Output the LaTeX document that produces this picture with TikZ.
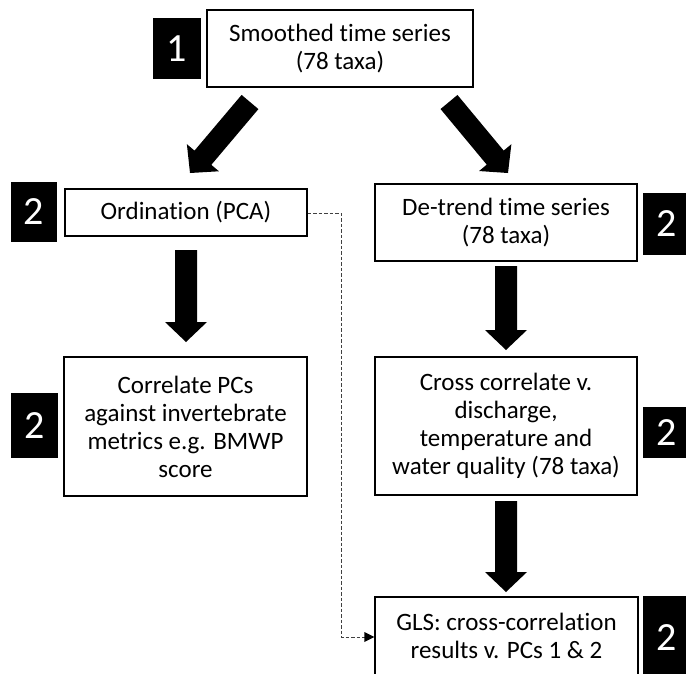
\documentclass[tikz,border=0pt]{standalone}
\usepackage{fontspec}
\setmainfont{Carlito}[Ligatures=NoCommon]
\usetikzlibrary{calc}
\newcommand{\barrow}[2]{%
  \path ($(#2)!20pt!(#1)$) coordinate (bh);
  \fill ($(#1)!11pt!90:(#2)$) -- ($(bh)!11pt!90:(#2)$) -- ($(bh)!21pt!90:(#2)$) -- (#2)
     -- ($(bh)!21pt!-90:(#2)$) -- ($(bh)!11pt!-90:(#2)$) -- ($(#1)!11pt!-90:(#2)$) -- cycle;}
\begin{document}
\begin{tikzpicture}[x=1pt,y=-1pt,
  box/.style={draw, line width=1.3pt, inner sep=0pt, align=center,
    font=\fontsize{25}{28}\selectfont},
  numbox/.style={fill=black, text=white, inner sep=0pt,
    font=\fontsize{40}{40}\selectfont},
  dashline/.style={draw=black!75, line width=1pt, dash pattern=on 3.5pt off 2pt}]
\useasboundingbox (0,0) rectangle (686,673);
% boxes
\node[box, minimum width=266pt, minimum height=77pt] (top) at (340,48.5) {Smoothed time series\\(78 taxa)};
\node[box, minimum width=242pt, minimum height=47pt] (ord) at (186,212.5) {Ordination (PCA)};
\node[box, minimum width=243pt, minimum height=139pt] (cor) at (185.5,426.5) {Correlate PCs\\against invertebrate\\metrics e.g. BMWP\\score};
\node[box, minimum width=262pt, minimum height=77pt] (det) at (506,222.5) {De-trend time series\\(78 taxa)};
\node[box, minimum width=262pt, minimum height=138pt] (cc) at (506,426) {Cross correlate v.\\discharge,\\temperature and\\water quality (78 taxa)};
\node[box, minimum width=263pt, minimum height=78pt] (gls) at (506.5,636) {GLS: cross-correlation\\results v. PCs 1 \& 2};
% number squares
\node[numbox, minimum width=48pt, minimum height=61pt] (n1) at (177,48.5) {1};
\node[numbox, minimum width=46pt, minimum height=60pt] (n2) at (34,212) {2};
\node[numbox, minimum width=47pt, minimum height=65pt] (n3) at (34.5,425.5) {2};
\node[numbox, minimum width=47pt, minimum height=62pt] (n4) at (666.5,224) {2};
\node[numbox, minimum width=47pt, minimum height=51pt] (n5) at (666.5,432.5) {2};
\node[numbox, minimum width=47pt, minimum height=84pt] (n6) at (666.5,638) {2};
% block arrows
\coordinate (a1s) at (250,102); \coordinate (a1e) at (190,173);
\coordinate (a2s) at (449,102); \coordinate (a2e) at (508,173);
\coordinate (a3s) at (186,250); \coordinate (a3e) at (186,342);
\coordinate (a4s) at (506,266); \coordinate (a4e) at (506,350);
\coordinate (a5s) at (506,501); \coordinate (a5e) at (506,592);
\barrow{a1s}{a1e}
\barrow{a2s}{a2e}
\barrow{a3s}{a3e}
\barrow{a4s}{a4e}
\barrow{a5s}{a5e}
% dashed connector
\coordinate (dk1) at (341,213);
\coordinate (dk2) at (341,637);
\draw[dashline] (ord.east |- dk1) -- (dk1) -- (dk2) -- ($(gls.west |- dk2)+(-9,0)$);
\fill[black] (gls.west |- dk2) -- ++(-10,-5) -- ++(0,10) -- cycle;
\end{tikzpicture}
\end{document}
